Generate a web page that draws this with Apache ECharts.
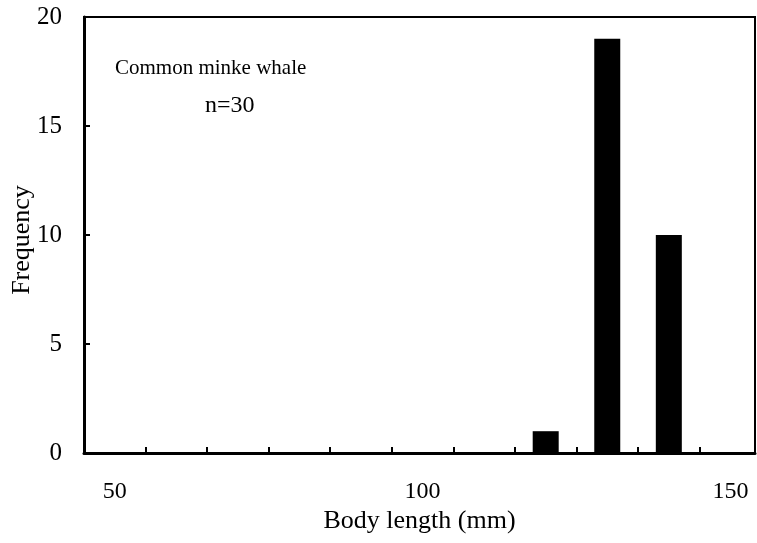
<!DOCTYPE html>
<html>
<head>
<meta charset="utf-8">
<script src="https://cdn.jsdelivr.net/npm/echarts@6/dist/echarts.min.js"></script>
<style>
  html, body { margin: 0; padding: 0; background: #fff; }
  #chart { width: 757px; height: 543px; }
</style>
</head>
<body>
<div id="chart"></div>
<script>
// bin centres (mm) and counts
const binCentres = [120, 130, 140];
const counts = [1, 19, 10];
const xLabels = [50, 100, 150];
const yTicks = [0, 5, 10, 15, 20];

const font = 'Liberation Serif';
const chart = echarts.init(document.getElementById('chart'));

const option = {
  backgroundColor: '#fff',
  animation: false,
  grid: {
    left: 84, right: 2, top: 17, bottom: 90,
    outerBoundsMode: 'none',
    show: true, borderColor: '#000', borderWidth: 2
  },
  title: [
    {
      text: 'Common minke whale',
      left: 110, top: 53,
      textStyle: { fontFamily: font, fontSize: 21, fontWeight: 'normal', color: '#000' }
    },
    {
      text: 'n=30',
      left: 200, top: 89,
      textStyle: { fontFamily: font, fontSize: 24, fontWeight: 'normal', color: '#000' }
    }
  ],
  xAxis: [
    {
      // tick marks at bin edges
      type: 'value', position: 'bottom',
      min: 45, max: 154, interval: 10,
      axisLine: { show: true, lineStyle: { color: '#000', width: 3 } },
      axisTick: { show: true, inside: true, length: 6, lineStyle: { color: '#000', width: 2 } },
      axisLabel: { show: false },
      splitLine: { show: false }
    },
    {
      // labels only
      type: 'value', position: 'bottom',
      min: 45, max: 154, interval: 5,
      axisLine: { show: false },
      axisTick: { show: false },
      splitLine: { show: false },
      axisLabel: {
        margin: 27,
        fontFamily: font, fontSize: 24, color: '#000',
        formatter: v => (xLabels.indexOf(v) >= 0 ? String(v) : '')
      },
      name: 'Body length (mm)',
      nameLocation: 'middle',
      nameGap: 55,
      nameMoveOverlap: false,
      nameTextStyle: { fontFamily: font, fontSize: 26, color: '#000' }
    }
  ],
  yAxis: {
    type: 'value',
    min: yTicks[0], max: yTicks[yTicks.length - 1], interval: 5,
    axisLine: { show: true, lineStyle: { color: '#000', width: 3 } },
    axisTick: { show: true, inside: true, length: 6, lineStyle: { color: '#000', width: 2 } },
    axisLabel: { margin: 22, fontFamily: font, fontSize: 25, color: '#000' },
    splitLine: { show: false },
    name: 'Frequency',
    nameLocation: 'middle',
    nameGap: 49,
    nameMoveOverlap: false,
    nameTextStyle: { fontFamily: font, fontSize: 26, color: '#000', padding: [0, 10, 0, 0] }
  },
  series: [
    {
      type: 'bar',
      xAxisIndex: 0,
      barWidth: 26,
      itemStyle: { color: '#000' },
      data: binCentres.map((c, i) => [c, counts[i]])
    }
  ]
};

chart.setOption(option);
</script>
</body>
</html>
